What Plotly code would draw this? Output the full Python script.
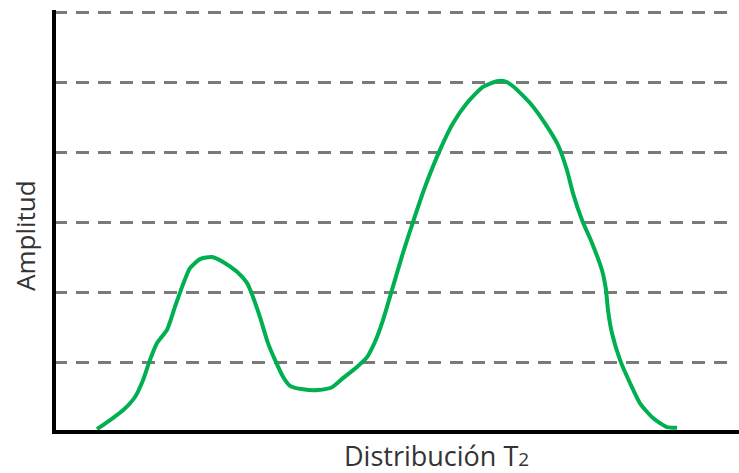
import plotly.graph_objects as go

# T2 distribution curve (arbitrary units): position along the T2 axis and amplitude
t2 = [43, 56, 69, 81, 89, 96, 103, 113, 121, 128, 136, 146, 158, 169, 183, 193,
      199, 206, 214, 221, 229, 236, 249, 264, 278, 289, 303, 313, 321, 329, 338,
      349, 359, 371, 386, 399, 413, 429, 443, 451, 459, 476, 491, 504, 513, 519,
      528, 538, 548, 552, 554, 558, 566, 576, 586, 599, 613, 623]
amplitude = [0.04, 0.17, 0.31, 0.50, 0.74, 1.03, 1.27, 1.46, 1.79, 2.07, 2.34,
             2.47, 2.50, 2.43, 2.29, 2.13, 1.93, 1.64, 1.27, 1.03, 0.79, 0.66,
             0.61, 0.60, 0.64, 0.77, 0.93, 1.07, 1.29, 1.60, 2.03, 2.56, 3.00,
             3.50, 4.03, 4.41, 4.70, 4.93, 5.01, 5.01, 4.94, 4.70, 4.41, 4.10,
             3.74, 3.41, 3.03, 2.70, 2.31, 2.03, 1.74, 1.41, 1.03, 0.70, 0.41,
             0.20, 0.07, 0.06]

# Horizontal reference levels
grid_levels = [1, 2, 3, 4, 5, 6]

x_label = "Distribución T<span style='font-size:19px'>2</span>"
y_label = "Amplitud"

fig = go.Figure()
fig.add_trace(go.Scatter(
    x=t2, y=amplitude, mode="lines",
    line=dict(color="#00B050", width=4, shape="spline", smoothing=0.6),
    hoverinfo="skip", showlegend=False,
))

fig.update_layout(
    width=739, height=473,
    margin=dict(l=54, r=6, t=10, b=41),
    paper_bgcolor="white", plot_bgcolor="white",
    xaxis=dict(range=[0, 679], showgrid=False, zeroline=False,
               showticklabels=False, ticks="", showline=False, fixedrange=True),
    yaxis=dict(range=[0, 6.029], tickvals=grid_levels, showgrid=True,
               gridcolor="#7a7a7a", gridwidth=2.5, griddash="13px,9px",
               zeroline=False, showticklabels=False, ticks="", showline=False,
               fixedrange=True),
    font=dict(family="Open Sans, sans-serif", color="#333333"),
    shapes=[
        # axis lines
        dict(type="line", xref="paper", yref="paper", x0=0, x1=685 / 679,
             y0=0, y1=0, line=dict(color="black", width=4)),
        dict(type="line", xref="paper", yref="paper", x0=0, x1=0,
             y0=-0.005, y1=1, line=dict(color="black", width=4)),
    ],
    annotations=[
        dict(text=x_label, xref="paper", yref="paper", x=(436 - 54) / 679,
             y=-24 / 422, xanchor="center", yanchor="middle", showarrow=False,
             font=dict(size=27, color="#333333")),
        dict(text=y_label, xref="paper", yref="paper", x=-29 / 679,
             y=(432 - 236) / 422, xanchor="center", yanchor="middle",
             textangle=-90, showarrow=False,
             font=dict(size=26, color="#333333")),
    ],
)

fig.write_html("out.html")
